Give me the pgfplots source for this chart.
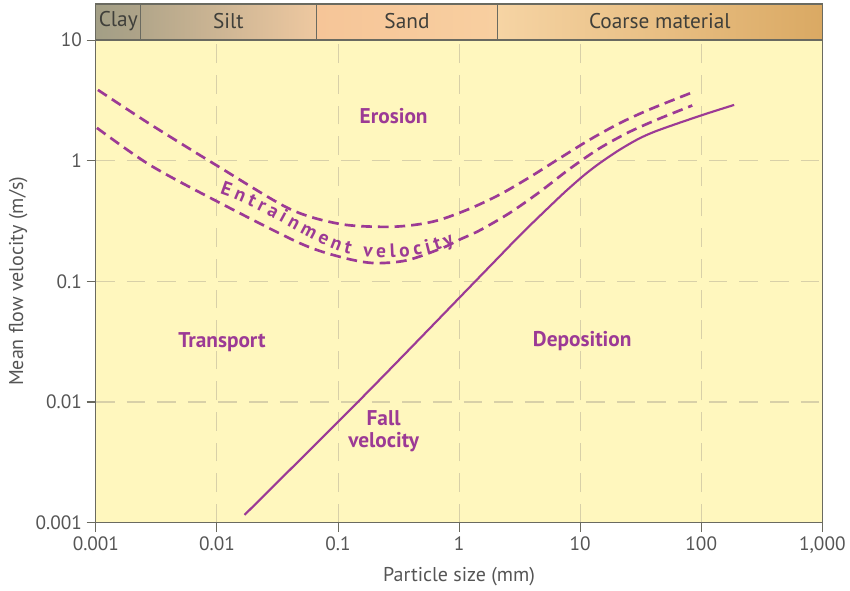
\documentclass[border=0pt]{standalone}
\usepackage{pgfplots}
\pgfplotsset{compat=1.18}
\usepackage{fontspec}
\setmainfont{PT Sans}
\usetikzlibrary{decorations.text}
\definecolor{bgy}{HTML}{FFF7BE}
\definecolor{purp}{HTML}{9C3A95}
\definecolor{gridc}{HTML}{D8D0A8}
\definecolor{txt}{HTML}{555555}
\definecolor{bord}{HTML}{6A6A60}
\definecolor{bandtxt}{HTML}{3F3F3A}
\definecolor{cA}{HTML}{A39F86}
\definecolor{cB}{HTML}{AEA388}
\definecolor{cC}{HTML}{B2A68A}
\definecolor{cD}{HTML}{EEC8A0}
\definecolor{cE}{HTML}{F6C598}
\definecolor{cF}{HTML}{F8CFA0}
\definecolor{cG}{HTML}{F6D4A4}
\definecolor{cH}{HTML}{DAA963}
\begin{document}
\begin{tikzpicture}
\begin{axis}[
  scale only axis,
  width=545.25pt, height=362.25pt,
  xmode=log, ymode=log,
  xmin=0.001, xmax=1000, ymin=0.001, ymax=10,
  xtick={0.001,0.01,0.1,1,10,100,1000},
  xticklabels={0.001,0.01,0.1,1,10,100,{1,000}},
  ytick={0.001,0.01,0.1,1,10},
  yticklabels={0.001,0.01,0.1,1,10},
  xminorticks=false, yminorticks=false,
  tick align=outside, xtick pos=bottom, ytick pos=left,
  major tick length=7pt,
  tick style={bord, line width=0.8pt},
  grid=major,
  major grid style={gridc, line width=0.8pt, dash pattern=on 14pt off 9pt},
  axis background/.style={fill=bgy},
  axis line style={bord, line width=0.9pt},
  ticklabel style={font=\fontsize{14.5pt}{16pt}\selectfont, text=txt},
  /pgf/number format/assume math mode=true,
  clip=false,
]
% entrainment velocity (upper)
\addplot[purp, line width=2pt, dash pattern=on 8pt off 4.5pt, smooth] coordinates {
(0.00104,3.86) (0.00279,2.015) (0.0101,0.905) (0.0399,0.3984) (0.103,0.2994) (0.2424,0.2827) (0.4285,0.2938) (0.689,0.3231) (1.218,0.3993) (2.154,0.5224) (3.810,0.7278) (6.736,1.044) (11.91,1.488) (21.06,2.039) (37.24,2.653) (84.3,3.681)};
% entrainment velocity (lower)
\addplot[purp, line width=2pt, dash pattern=on 8pt off 4.5pt, smooth] coordinates {
(0.00102,1.87) (0.00279,0.922) (0.0101,0.458) (0.048,0.208) (0.103,0.160) (0.193,0.142) (0.368,0.1492) (0.730,0.1894) (1.0,0.221) (1.473,0.2639) (2.605,0.3678) (4.607,0.5489) (8.145,0.8527) (14.40,1.264) (25.47,1.732) (45.03,2.230) (84.3,2.869)};
% fall velocity
\addplot[purp, line width=1.6pt, smooth] coordinates {
(0.0169,0.00116) (0.17,0.0117) (1.68,0.1245) (3.33,0.252) (6.37,0.473) (8.15,0.595) (10.83,0.762) (14.39,0.949) (21.06,1.228) (30.8,1.529) (45.0,1.80) (102,2.39) (187,2.90)};
% band
\shade[left color=cA, right color=cB] (axis cs:0.001,10) rectangle (axis cs:0.00235,19.9);
\shade[left color=cC, right color=cD] (axis cs:0.00235,10) rectangle (axis cs:0.0666,19.9);
\shade[left color=cE, right color=cF] (axis cs:0.0666,10) rectangle (axis cs:2.07,19.9);
\shade[left color=cG, right color=cH] (axis cs:2.07,10) rectangle (axis cs:1000,19.9);
\draw[bord, line width=0.9pt] (axis cs:0.001,10) rectangle (axis cs:1000,19.9);
\draw[bord, line width=0.9pt] (axis cs:0.00235,10) -- (axis cs:0.00235,19.9);
\draw[bord, line width=0.9pt] (axis cs:0.0666,10) -- (axis cs:0.0666,19.9);
\draw[bord, line width=0.9pt] (axis cs:2.07,10) -- (axis cs:2.07,19.9);
\begin{scope}[every node/.style={font=\fontsize{16pt}{18pt}\selectfont, text=bandtxt}]
\node at (axis cs:0.00153,14.3) {Clay};
\node at (axis cs:0.0124,14.3) {Silt};
\node at (axis cs:0.371,14.3) {Sand};
\node at (axis cs:45.5,14.3) {Coarse material};
\end{scope}
% region labels
\begin{scope}[every node/.style={font=\bfseries\fontsize{16pt}{16.5pt}\selectfont, text=purp, align=center}]
\node at (axis cs:0.288,2.35) {Erosion};
\node at (axis cs:0.011,0.0315) {Transport};
\node at (axis cs:10.4,0.0322) {Deposition};
\node at (axis cs:0.238,0.0057) {Fall\\velocity};
\end{scope}
\path[decorate, decoration={text along path, text align=fit to path,
  text={|\bfseries\fontsize{14.5pt}{15pt}\selectfont\color{purp}|Entrainment  velocity}}]
  (axis cs:0.01054,0.530) .. controls (axis cs:0.02726,0.3863) and (axis cs:0.0641,0.1944) .. (axis cs:0.1247,0.1676)
  .. controls (axis cs:0.2204,0.1472) and (axis cs:0.5184,0.1557) .. (axis cs:0.916,0.2065);
% axis labels
\node[rotate=90, font=\fontsize{15pt}{17pt}\selectfont, text=txt] at (rel axis cs:-0.107,0.5) {Mean flow velocity (m/s)};
\node[font=\fontsize{15pt}{17pt}\selectfont, text=txt] at (rel axis cs:0.5,-0.112) {Particle size (mm)};
\path (rel axis cs:-0.132,-0.1346) rectangle (rel axis cs:1.037,1.083);
\end{axis}
\end{tikzpicture}
\end{document}
